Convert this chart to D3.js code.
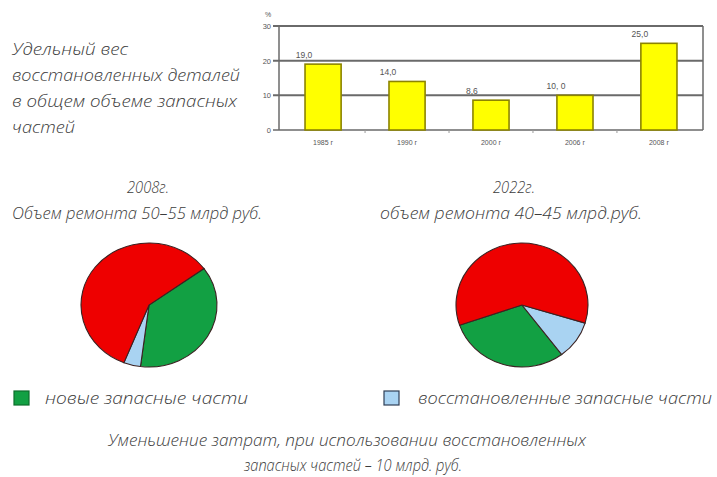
<!DOCTYPE html>
<html lang="ru">
<head>
<meta charset="utf-8">
<script src="https://cdn.jsdelivr.net/npm/d3@7"></script>
<style>
  html, body { margin: 0; padding: 0; background: #fff; }
  svg { display: block; }
  .hand { font-family: "Open Sans", "DejaVu Sans", sans-serif; font-style: italic; font-weight: 300; fill: #3c3c3c; }
  .small { font-family: "Liberation Sans", Arial, sans-serif; fill: #555; }
</style>
</head>
<body>
<svg id="chart" width="717" height="477"></svg>
<script>
// Share of restored parts in total spare-parts volume, %
const years = ["1985 г", "1990 г", "2000 г", "2006 г", "2008 г"];
const shares = [19.0, 14.0, 8.6, 10.0, 25.0];
const shareLabels = ["19,0", "14,0", "8,6", "10, 0", "25,0"];
const yTicks = [0, 10, 20, 30];

// Repair volume structure: new / restored / other parts
const pieKeys = ["new", "restored", "other"];
const pie2008 = [37, 4, 59];
const pie2022 = [30, 10, 60];
const pieColors = ["#12a043", "#a9d3f2", "#ee0000"];

const titleLines = ["Удельный вес", "восстановленных деталей", "в общем объеме запасных", "частей"];
const legendLabels = ["новые запасные части", "восстановленные запасные части"];
const footerLines = ["Уменьшение затрат, при использовании восстановленных", "запасных частей – 10 млрд. руб."];

const svg = d3.select("#chart");
const FS = 17;

// ---- left caption ----
const titleWidths = [116, 228, 225, 63];
svg.append("g").selectAll("text")
  .data(titleLines)
  .join("text")
  .attr("class", "hand")
  .attr("x", 12)
  .attr("y", (d, i) => 55 + i * 26)
  .attr("font-size", FS)
  .attr("textLength", (d, i) => titleWidths[i])
  .attr("lengthAdjust", "spacingAndGlyphs")
  .text(d => d);

// ---- bar chart ----
const plot = { left: 279, right: 703, top: 26, bottom: 130 };
const x = d3.scaleBand().domain(years)
  .range([plot.left, plot.right]).paddingInner(0.57).paddingOuter(0.31);
const y = d3.scaleLinear().domain([0, 30]).range([plot.bottom, plot.top]);

const bars = svg.append("g");

// grid lines and frame
bars.append("g").selectAll("line")
  .data(yTicks)
  .join("line")
  .attr("x1", plot.left - 6).attr("x2", plot.right)
  .attr("y1", d => y(d)).attr("y2", d => y(d))
  .attr("stroke", "#6a6a6a")
  .attr("stroke-width", d => d === 0 ? 1.5 : 2);
bars.append("line")
  .attr("x1", plot.left).attr("x2", plot.left)
  .attr("y1", y(30)).attr("y2", y(0))
  .attr("stroke", "#6a6a6a").attr("stroke-width", 1.5);
bars.append("line")
  .attr("x1", plot.right).attr("x2", plot.right)
  .attr("y1", y(30)).attr("y2", y(0))
  .attr("stroke", "#6a6a6a").attr("stroke-width", 1.5);

// y axis labels
bars.append("g").selectAll("text")
  .data(yTicks)
  .join("text")
  .attr("class", "small")
  .attr("x", plot.left - 8)
  .attr("y", d => y(d) + 3)
  .attr("text-anchor", "end")
  .attr("font-size", 7.5)
  .text(d => d);
bars.append("text")
  .attr("class", "small")
  .attr("x", plot.left - 14)
  .attr("y", y(30) - 9)
  .attr("font-size", 7)
  .text("%");

// small ticks between categories
bars.append("g").selectAll("line")
  .data(years.slice(1))
  .join("line")
  .attr("x1", d => x(d) - (x.step() - x.bandwidth()) / 2)
  .attr("x2", d => x(d) - (x.step() - x.bandwidth()) / 2)
  .attr("y1", y(0)).attr("y2", y(0) + 3)
  .attr("stroke", "#999").attr("stroke-width", 1);

// bars
bars.append("g").selectAll("rect")
  .data(shares)
  .join("rect")
  .attr("x", (d, i) => x(years[i]))
  .attr("y", d => y(d))
  .attr("width", x.bandwidth())
  .attr("height", d => y(0) - y(d))
  .attr("fill", "#ffff00")
  .attr("stroke", "#8c8400")
  .attr("stroke-width", 1.6);

// value labels
bars.append("g").selectAll("text")
  .data(shares)
  .join("text")
  .attr("class", "small")
  .attr("x", (d, i) => x(years[i]) - 1)
  .attr("y", d => y(d) - 6)
  .attr("text-anchor", "middle")
  .attr("font-size", 8.5)
  .text((d, i) => shareLabels[i]);

// category labels
bars.append("g").selectAll("text")
  .data(years)
  .join("text")
  .attr("class", "small")
  .attr("x", d => x(d) + x.bandwidth() / 2)
  .attr("y", y(0) + 15)
  .attr("text-anchor", "middle")
  .attr("font-size", 7)
  .text(d => d);

// ---- pie headings ----
const headings = [
  { cx: 148, year: "2008г.", text: "Объем ремонта 50–55 млрд руб.", w: 250, tx: 137 },
  { cx: 514, year: "2022г.", text: "объем ремонта 40–45 млрд.руб.", w: 262, tx: 511 }
];
headings.forEach(h => {
  svg.append("text").attr("class", "hand")
    .attr("x", h.cx).attr("y", 193).attr("text-anchor", "middle")
    .attr("font-size", FS).attr("textLength", 42).attr("lengthAdjust", "spacingAndGlyphs")
    .text(h.year);
  svg.append("text").attr("class", "hand")
    .attr("x", h.tx).attr("y", 219).attr("text-anchor", "middle")
    .attr("font-size", FS).attr("textLength", h.w).attr("lengthAdjust", "spacingAndGlyphs")
    .text(h.text);
});

// ---- pies ----
const ry = 62;
const arc = d3.arc().innerRadius(0).outerRadius(ry);
// slices run from startDeg; a negative sweep lays them out counter-clockwise
function drawPie(values, cx, cy, rx, startDeg, sweepDeg) {
  const a0 = startDeg * Math.PI / 180;
  const layout = d3.pie().sort(null)
    .startAngle(a0)
    .endAngle(a0 + sweepDeg * Math.PI / 180);
  const g = svg.append("g")
    .attr("transform", `translate(${cx},${cy}) scale(${rx / ry},1)`);
  g.selectAll("path")
    .data(layout(values))
    .join("path")
    .attr("d", arc)
    .attr("fill", (d, i) => pieColors[i])
    .attr("stroke", "#3b2222")
    .attr("stroke-width", 1.1)
    .attr("vector-effect", "non-scaling-stroke");
}
drawPie(pie2008, 149, 305, 68, 54, 360);
drawPie(pie2022, 522, 305, 66, 251, -360);

// ---- legend ----
const legend = [
  { x: 14, label: legendLabels[0], color: pieColors[0], w: 203, tx: 45 },
  { x: 384, label: legendLabels[1], color: pieColors[1], w: 294, tx: 418 }
];
legend.forEach(l => {
  svg.append("rect")
    .attr("x", l.x).attr("y", 391).attr("width", 15).attr("height", 14)
    .attr("fill", l.color).attr("stroke", l.color === pieColors[1] ? "#2f3f55" : "#0c6e2c")
    .attr("stroke-width", 1.2);
  svg.append("text").attr("class", "hand")
    .attr("x", l.tx).attr("y", 404)
    .attr("font-size", FS).attr("textLength", l.w).attr("lengthAdjust", "spacingAndGlyphs")
    .text(l.label);
});

// ---- footer ----
const footerWidths = [478, 218];
svg.append("g").selectAll("text")
  .data(footerLines)
  .join("text")
  .attr("class", "hand")
  .attr("x", (d, i) => i === 0 ? 347 : 353)
  .attr("y", (d, i) => 446 + i * 25)
  .attr("text-anchor", "middle")
  .attr("font-size", FS)
  .attr("textLength", (d, i) => footerWidths[i])
  .attr("lengthAdjust", "spacingAndGlyphs")
  .text(d => d);
</script>
</body>
</html>
